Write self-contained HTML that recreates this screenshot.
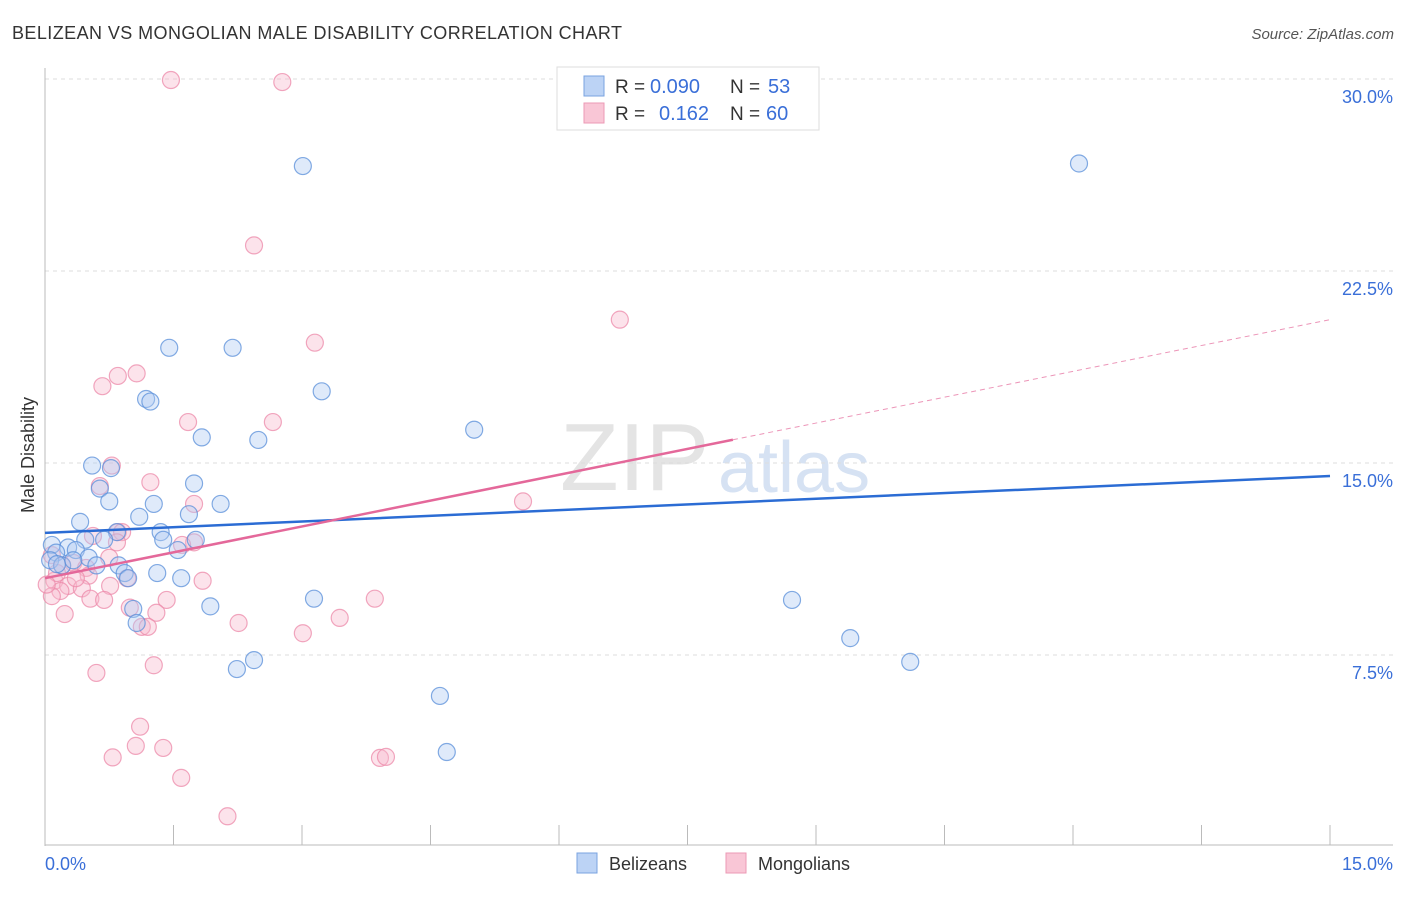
<!DOCTYPE html>
<html><head><meta charset="utf-8"><style>
body{margin:0;background:#fff;font-family:"Liberation Sans",sans-serif}
svg text{font-family:"Liberation Sans",sans-serif}
</style></head><body>
<svg width="1406" height="892">
<text x="12" y="39" font-size="18" fill="#333" textLength="610">BELIZEAN VS MONGOLIAN MALE DISABILITY CORRELATION CHART</text>
<text x="1394" y="39" font-size="15" fill="#555" text-anchor="end" font-style="italic">Source: ZipAtlas.com</text>
<text x="560" y="490" font-size="96" fill="#e4e4e4" font-family="Liberation Serif">ZIP</text>
<text x="718" y="492" font-size="72" fill="#d6e2f3">atlas</text>
<g id="grid"></g>
<line x1="45" y1="68" x2="45" y2="846" stroke="#bbb"/>
<line x1="45" y1="845" x2="1393" y2="845" stroke="#bbb"/>
<g id="ticks"></g>
<text x="34" y="455" font-size="18" fill="#333" transform="rotate(-90 34 455)" text-anchor="middle">Male Disability</text>
<text x="45" y="870" font-size="18" fill="#3a6fd8">0.0%</text>
<text x="1393" y="870" font-size="18" fill="#3a6fd8" text-anchor="end">15.0%</text>
<g id="pts"></g>
<g id="lines"></g>
<g>
<rect x="557" y="67" width="262" height="63" fill="#fff" stroke="#ddd"/>
<rect x="584" y="76" width="20" height="20" fill="#bcd3f5" stroke="#7aa3e0"/>
<rect x="584" y="103" width="20" height="20" fill="#f9c6d6" stroke="#ec9ab5"/>
<text x="615" y="93" font-size="19" fill="#333">R =</text>
<text x="650" y="93" font-size="20" fill="#3a6fd8">0.090</text>
<text x="730" y="93" font-size="19" fill="#333">N =</text>
<text x="768" y="93" font-size="20" fill="#3a6fd8">53</text>
<text x="615" y="120" font-size="19" fill="#333">R =</text>
<text x="659" y="120" font-size="20" fill="#3a6fd8">0.162</text>
<text x="730" y="120" font-size="19" fill="#333">N =</text>
<text x="766" y="120" font-size="20" fill="#3a6fd8">60</text>
</g>
<g>
<rect x="577" y="853" width="20" height="20" fill="#bcd3f5" stroke="#7aa3e0"/>
<text x="609" y="870" font-size="18" fill="#333">Belizeans</text>
<rect x="726" y="853" width="20" height="20" fill="#f9c6d6" stroke="#ec9ab5"/>
<text x="758" y="870" font-size="18" fill="#333">Mongolians</text>
</g>
</svg>
<script>
const yTicks=[7.5,15,22.5,30];
const yTickLabels=["7.5%","15.0%","22.5%","30.0%"];
const blueX=[3.01,12.07,1.45,2.19,3.23,1.18,1.23,1.83,2.49,5.01,0.55,0.77,0.64,1.74,0.75,1.27,2.05,1.10,1.68,0.41,0.84,1.35,1.76,1.38,0.69,0.47,0.08,0.27,0.36,0.13,1.55,0.51,0.06,0.20,0.60,0.86,0.93,0.97,1.31,1.59,3.14,1.93,1.03,1.07,8.72,9.40,10.10,2.44,2.24,4.61,4.69,0.14,0.33];
const blueY=[26.6,26.7,19.5,19.5,17.8,17.5,17.4,16.0,15.9,16.3,14.9,14.8,14.0,14.2,13.5,13.4,13.4,12.9,13.0,12.7,12.3,12.3,12.0,12.0,12.0,12.0,11.8,11.7,11.6,11.5,11.6,11.3,11.2,11.0,11.0,11.0,10.7,10.5,10.7,10.5,9.7,9.4,9.3,8.75,9.65,8.16,7.23,7.3,6.95,5.9,3.71,11.05,11.2];
const pinkX=[1.47,2.77,2.44,6.71,3.15,0.85,1.07,0.67,1.67,2.66,0.78,0.64,1.23,1.74,5.58,0.85,0.90,0.56,0.84,1.74,1.60,0.08,0.75,0.33,0.48,0.20,0.51,0.11,0.96,1.84,0.27,0.43,0.76,0.18,0.08,0.53,0.69,1.42,3.85,0.99,1.30,0.23,2.26,3.44,1.13,1.20,3.01,1.27,0.60,1.11,1.06,1.38,0.79,3.91,3.98,1.59,2.13,0.14,0.02,0.36];
const pinkY=[29.96,29.88,23.5,20.6,19.7,18.4,18.5,18.0,16.6,16.6,14.9,14.1,14.25,13.4,13.5,12.3,12.3,12.15,11.9,11.9,11.8,11.4,11.3,11.1,10.9,11.0,10.6,10.4,10.5,10.4,10.2,10.1,10.2,10.0,9.8,9.7,9.65,9.65,9.7,9.35,9.15,9.1,8.75,8.95,8.6,8.6,8.35,7.1,6.8,4.7,3.95,3.87,3.5,3.48,3.52,2.7,1.2,10.7,10.25,10.5];
const blueTrend=[12.27,14.49];
const pinkTrend=[10.5,20.6];
const pinkSolidEnd=8.03;
const xs=v=>45+v/15*1285, ys=v=>847-v*25.6;
const NS="http://www.w3.org/2000/svg";
function mk(t,a,p){const e=document.createElementNS(NS,t);for(const k in a)e.setAttribute(k,a[k]);p.appendChild(e);return e;}
const grid=document.getElementById('grid');
yTicks.forEach((v,i)=>{
 const l=mk('line',{x1:45,x2:1393,y1:ys(v),y2:ys(v),stroke:'#ddd','stroke-dasharray':'4,4'},grid);
 
 
 const t=mk('text',{x:1393,y:ys(v)+24,'font-size':18,fill:'#3a6fd8','text-anchor':'end'},grid);
 t.textContent=yTickLabels[i];
 
 
});
const tk=document.getElementById('ticks');
for(let i=1;i<=10;i++){const v=i*1.5;
 const l=mk('line',{x1:xs(v),x2:xs(v),y1:825,y2:845,stroke:'#bbb'},tk);
 
 }
const pts=document.getElementById('pts');
function dots(X,Y,f,s,n){X.forEach((x,i)=>{const c=mk('circle',{cx:xs(x),cy:ys(Y[i]),r:8.5,fill:f,'fill-opacity':0.4,stroke:s,'stroke-width':1.2,'stroke-opacity':0.75},pts);
 
 });}
dots(pinkX,pinkY,'#f7b8cc','#ec89aa','mongolian-point');
dots(blueX,blueY,'#aecbf2','#5a8fd9','belizean-point');
const ln=document.getElementById('lines');
let a=mk('line',{x1:xs(0),y1:ys(blueTrend[0]),x2:xs(15),y2:ys(blueTrend[1]),stroke:'#2b6cd4','stroke-width':2.5},ln);


const pm=pinkTrend[0]+(pinkTrend[1]-pinkTrend[0])*pinkSolidEnd/15;
let b=mk('line',{x1:xs(0),y1:ys(pinkTrend[0]),x2:xs(pinkSolidEnd),y2:ys(pm),stroke:'#e4689a','stroke-width':2.5},ln);


let c=mk('line',{x1:xs(pinkSolidEnd),y1:ys(pm),x2:xs(15),y2:ys(pinkTrend[1]),stroke:'#e4689a','stroke-width':1,'stroke-dasharray':'5,4','stroke-opacity':0.7},ln);


</script>
</body></html>
